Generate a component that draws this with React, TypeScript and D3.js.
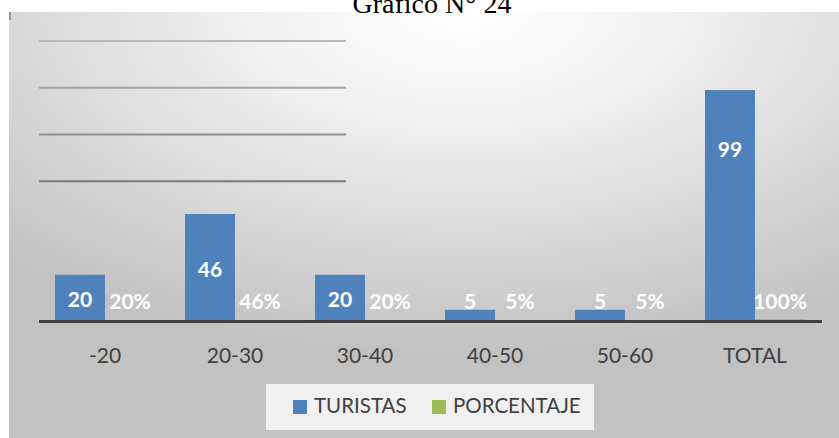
import React from 'react';
import * as d3 from 'd3';

const categories = ['-20', '20-30', '30-40', '40-50', '50-60', 'TOTAL'];
const turistas = [20, 46, 20, 5, 5, 99];
const porcentaje = [0.2, 0.46, 0.2, 0.05, 0.05, 1];
const gridTicks = [60, 80, 100, 120];
const seriesNames = ['TURISTAS', 'PORCENTAJE'];

const W = 839;
const H = 438;
const FONT = 'Lato, "Open Sans", sans-serif';
const blue = '#4f81bd';
const green = '#9bbb59';

export default function App() {
  const x = d3.scaleBand().domain(categories).range([40, 820]).paddingInner(0).paddingOuter(0);
  const inner = d3.scaleBand().domain(seriesNames).range([0, x.bandwidth()]).paddingInner(0).paddingOuter(0.3);
  const y = d3.scaleLinear().domain([0, 120]).range([321.5, 41]);
  const base = y(0);
  const gridColor = d3.scaleLinear<string>().domain([60, 120]).range(['#7a7a7a', '#bababa']);

  // label placement: centre of bar, kept close to the top and off the axis
  const labelY = (v: number) => Math.min((y(v) + base) / 2 + 2, y(v) + 60, base - 20);

  return (
    <svg width={W} height={H} style={{ position: 'absolute', left: 0, top: 0, display: 'block' }}>
      <defs>
        <radialGradient id="bg" cx="0.55" cy="0.0" r="0.8" gradientUnits="objectBoundingBox">
          <stop offset="0" stopColor="#ffffff" />
          <stop offset="0.3" stopColor="#f2f2f2" />
          <stop offset="1" stopColor="#c2c2c2" />
        </radialGradient>
      </defs>
      <rect x={0} y={0} width={W} height={H} fill="#ffffff" />
      <rect x={9} y={12} width={W - 9} height={H - 12} fill="url(#bg)" />
      <rect x={9} y={12} width={2} height={8} fill="#9a9a9a" />

      <text x={432} y={13} textAnchor="middle" fontFamily='"Liberation Serif", "Times New Roman", serif' fontSize={28} fill="#000">
        Gráfico N° 24
      </text>

      {gridTicks.map(t => (
        <line key={t} x1={39} x2={346} y1={y(t)} y2={y(t)} stroke={gridColor(t)} strokeWidth={2} />
      ))}

      {categories.map((c, i) => {
        const x0 = x(c)!;
        const bx = x0 + inner('TURISTAS')!;
        const px = x0 + inner('PORCENTAJE')!;
        const bw = inner.bandwidth();
        return (
          <g key={c}>
            <rect x={bx} y={y(turistas[i])} width={bw} height={base - y(turistas[i])} fill={blue} />
            <rect x={px} y={y(porcentaje[i])} width={bw} height={base - y(porcentaje[i])} fill={green} />
          </g>
        );
      })}

      <line x1={39} x2={822} y1={base} y2={base} stroke="#404040" strokeWidth={3} />

      {categories.map((c, i) => {
        const x0 = x(c)!;
        const bw = inner.bandwidth();
        const bx = x0 + inner('TURISTAS')! + bw / 2;
        const px = x0 + inner('PORCENTAJE')! + bw / 2;
        return (
          <g key={c} fontFamily={FONT} fontWeight="bold" fontSize={21} fill="#ffffff" textAnchor="middle">
            <text x={bx} y={labelY(turistas[i])} dy="0.35em">{turistas[i]}</text>
            <text x={px} y={labelY(porcentaje[i])} dy="0.35em">{d3.format('.0%')(porcentaje[i])}</text>
          </g>
        );
      })}

      {categories.map(c => (
        <text key={c} x={x(c)! + x.bandwidth() / 2} y={363} textAnchor="middle" fontFamily={FONT} fontSize={21} fill="#404040">
          {c}
        </text>
      ))}

      <rect x={266} y={384} width={328} height={46} fill="#f0f0f0" />
      {seriesNames.map((s, i) => {
        const lx = i === 0 ? 293 : 432;
        return (
          <g key={s}>
            <rect x={lx} y={400} width={14} height={14} fill={i === 0 ? blue : green} />
            <text x={lx + 21} y={413} fontFamily={FONT} fontSize={20.5} fill="#404040">{s}</text>
          </g>
        );
      })}
    </svg>
  );
}
